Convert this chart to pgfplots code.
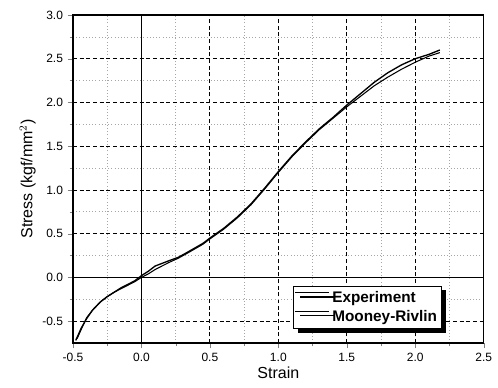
\documentclass[border=0pt]{standalone}
\usepackage{fontspec}
\setmainfont{Liberation Sans}
\usepackage{pgfplots}
\pgfplotsset{compat=1.18}
\usetikzlibrary{shadows}
\begin{document}
\begin{tikzpicture}
\begin{axis}[name=ax, at={(0,0)}, anchor=south west,
  scale only axis, width=308pt, height=246pt,
  xmin=-0.5, xmax=2.5, ymin=-0.75, ymax=3.0,
  xtick={-0.5,0,...,2.5}, ytick={-0.5,0,...,3.0},
  minor x tick num=1, minor y tick num=1,
  xticklabel style={/pgf/number format/.cd, fixed, fixed zerofill, precision=1},
  yticklabel style={/pgf/number format/.cd, fixed, fixed zerofill, precision=1},
  /pgf/number format/assume math mode=true,
  tick label style={font=\fontsize{9}{10}\selectfont},
  major tick length=4pt, minor tick length=2.5pt,
  tick align=outside,
  xtick pos=bottom, ytick pos=left,
  grid=both,
  major grid style={black, densely dashed, line width=0.6pt},
  minor grid style={gray!70, dotted, line width=0.5pt},
  axis line style={black, line width=1pt},
  xlabel={Strain}, ylabel={Stress (kgf/mm$^2$)},
  label style={font=\fontsize{12}{13}\selectfont},
  xlabel style={yshift=3pt},
  ylabel style={yshift=-2pt},
  legend cell align=left,
  legend style={at={(0.535,0.043)}, anchor=south west, draw=black, fill=white,
    font=\bfseries\fontsize{11.5}{13}\selectfont, line width=0.6pt,
    drop shadow={shadow xshift=4pt, shadow yshift=-3pt, fill=black, opacity=1},
    inner xsep=1pt, inner ysep=2pt, row sep=0pt},
  legend image code/.code={\draw[#1, line width=0.8pt] (0cm,0.75ex) -- (0.9cm,0.75ex);},
]
\draw[black, line width=0.9pt] (axis cs:0,-0.75) -- (axis cs:0,3.0);
\draw[black, line width=0.9pt] (axis cs:-0.5,0) -- (axis cs:2.5,0);
\addplot[black, line width=1pt] coordinates {
(-0.48,-0.72) (-0.44,-0.58) (-0.40,-0.47) (-0.36,-0.38) (-0.30,-0.28) (-0.25,-0.22)
(-0.20,-0.17) (-0.15,-0.12) (-0.10,-0.08) (-0.05,-0.04) (0,0.02) (0.05,0.07)
(0.10,0.13) (0.15,0.16) (0.20,0.19) (0.27,0.23) (0.35,0.30) (0.45,0.39)
(0.50,0.45) (0.60,0.56) (0.70,0.69) (0.80,0.84) (0.90,1.02) (1.00,1.21)
(1.10,1.39) (1.20,1.55) (1.30,1.70) (1.40,1.83) (1.50,1.97) (1.60,2.10)
(1.70,2.23) (1.80,2.34) (1.90,2.43) (2.00,2.50) (2.10,2.55) (2.18,2.60)};
\addlegendentry{Experiment}
\addplot[black, line width=0.8pt] coordinates {
(-0.47,-0.70) (-0.43,-0.56) (-0.40,-0.46) (-0.35,-0.36) (-0.30,-0.28) (-0.25,-0.22)
(-0.20,-0.17) (-0.15,-0.13) (-0.10,-0.09) (-0.05,-0.05) (0,0) (0.05,0.04)
(0.10,0.09) (0.15,0.13) (0.20,0.17) (0.27,0.22) (0.35,0.29) (0.45,0.38)
(0.50,0.44) (0.60,0.55) (0.70,0.68) (0.80,0.83) (0.90,1.01) (1.00,1.20)
(1.10,1.38) (1.20,1.54) (1.30,1.69) (1.40,1.82) (1.50,1.95) (1.60,2.07)
(1.70,2.19) (1.80,2.29) (1.90,2.38) (2.00,2.46) (2.10,2.53) (2.18,2.57)};
\addlegendentry{Mooney-Rivlin}
\end{axis}
\pgfresetboundingbox
\path[use as bounding box] (-54.75pt,-33pt) rectangle (318.75pt,257.25pt);
\end{tikzpicture}
\end{document}
